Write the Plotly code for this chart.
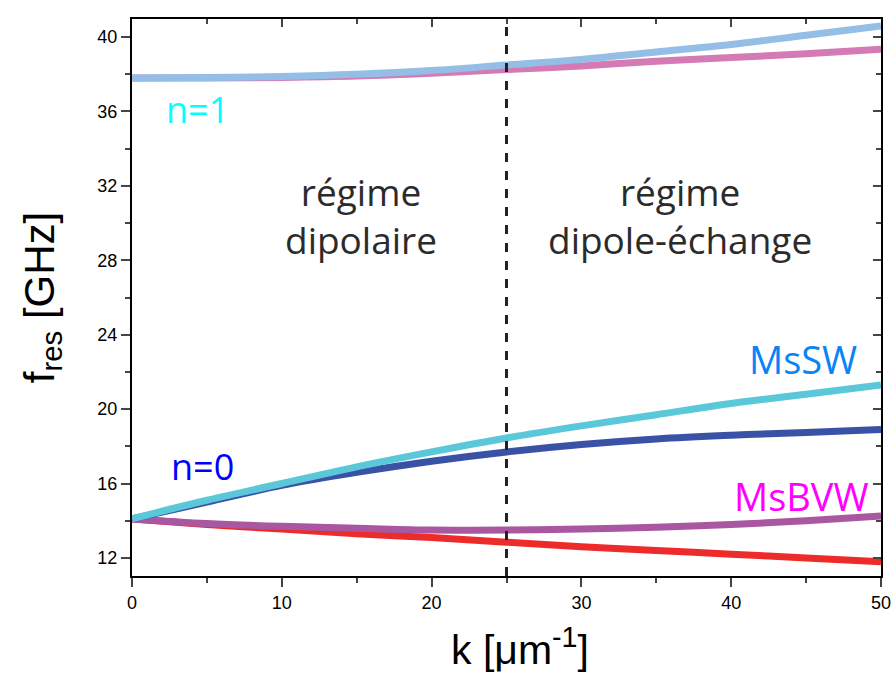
import plotly.graph_objects as go

k = [0, 5, 10, 15, 20, 25, 30, 35, 40, 45, 50]
n1_sw = [37.8, 37.82, 37.88, 38.0, 38.2, 38.5, 38.8, 39.2, 39.6, 40.1, 40.6]
n1_bvw = [37.8, 37.8, 37.83, 37.9, 38.05, 38.25, 38.45, 38.7, 38.9, 39.1, 39.35]
n0_sw = [14.1, 15.1, 16.0, 16.9, 17.7, 18.45, 19.1, 19.7, 20.3, 20.8, 21.3]
n0_sw_dip = [14.1, 15.0, 15.9, 16.6, 17.2, 17.7, 18.1, 18.4, 18.6, 18.75, 18.9]
n0_bvw = [14.1, 13.85, 13.7, 13.6, 13.5, 13.5, 13.55, 13.65, 13.8, 14.0, 14.25]
n0_bvw_dip = [14.1, 13.8, 13.55, 13.3, 13.1, 12.85, 12.6, 12.4, 12.2, 12.0, 11.8]
k_boundary = 25

series = [
    (n1_bvw, "#D47BB5"),
    (n1_sw, "#94BEE6"),
    (n0_bvw_dip, "#EE2B2B"),
    (n0_bvw, "#A857A0"),
    (n0_sw_dip, "#3A52A5"),
    (n0_sw, "#5BC8DA"),
]

fig = go.Figure()
for ys, c in series:
    fig.add_trace(go.Scatter(x=k, y=ys, mode="lines", line=dict(color=c, width=7, shape="spline"),
                             showlegend=False, hoverinfo="skip"))

yr = [11.03, 40.97]
fig.add_trace(go.Scatter(x=[k_boundary, k_boundary], y=yr, mode="lines",
                         line=dict(color="#222222", width=3, dash="dash"), showlegend=False))

tickfont = dict(family="Liberation Sans, Arial", size=18, color="black")
fig.update_layout(
    width=895, height=682,
    margin=dict(l=132, r=14, t=19, b=106),
    plot_bgcolor="white", paper_bgcolor="white",
    xaxis=dict(range=[0, 50], tickvals=[0, 10, 20, 30, 40, 50], ticks="outside", ticklen=9, tickwidth=2,
               minor=dict(tickvals=[5, 15, 25, 35, 45], ticks="outside", ticklen=5, tickwidth=2),
               showline=True, linecolor="black", linewidth=2, showgrid=False, zeroline=False,
               tickfont=tickfont, automargin=False),
    yaxis=dict(range=yr, tickvals=[12, 16, 20, 24, 28, 32, 36, 40], ticks="outside", ticklen=9, tickwidth=2,
               minor=dict(tickvals=[14, 18, 22, 26, 30, 34, 38], ticks="outside", ticklen=5, tickwidth=2),
               showline=True, linecolor="black", linewidth=2, showgrid=False, zeroline=False,
               tickfont=tickfont, automargin=False,
               title=dict(text="f<sub>res</sub> [GHz]", font=dict(family="Liberation Sans, Arial", size=42, color="black"), standoff=30)),
    xaxis2=dict(overlaying="x", side="top", range=[0, 50], tickvals=[0, 10, 20, 30, 40, 50], ticks="inside",
                ticklen=8, tickwidth=2, showticklabels=False, showline=True, linecolor="black", linewidth=2,
                minor=dict(tickvals=[5, 15, 25, 35, 45], ticks="inside", ticklen=5, tickwidth=2),
                showgrid=False, zeroline=False, automargin=False),
    yaxis2=dict(overlaying="y", side="right", range=yr, tickvals=[12, 16, 20, 24, 28, 32, 36, 40], ticks="inside",
                ticklen=8, tickwidth=2, showticklabels=False, showline=True, linecolor="black", linewidth=2,
                minor=dict(tickvals=[14, 18, 22, 26, 30, 34, 38], ticks="inside", ticklen=5, tickwidth=2),
                showgrid=False, zeroline=False, automargin=False),
)
fig.add_trace(go.Scatter(x=[None], y=[None], xaxis="x2", yaxis="y2", showlegend=False))

# x-axis title (slightly right of centre as in the reference)
fig.add_annotation(x=(520 - 132) / (881 - 132), y=-0.128, xref="paper", yref="paper",
                   text="k [μm<sup>-1</sup>]", showarrow=False, yanchor="middle",
                   font=dict(family="Liberation Sans, Arial", size=41, color="black"))

afont = "Open Sans, Lato, sans-serif"
ann = [
    (4.35, 36.1, "n=1", "#00FFFF", 36),
    (4.7, 16.9, "n=0", "#0000FF", 36),
    (44.8, 22.7, "MsSW", "#0A84F5", 38),
    (44.7, 15.35, "MsBVW", "#FF00FF", 38),
    (15.3, 30.4, "régime<br>dipolaire", "#2b2b2b", 37),
    (36.6, 30.4, "régime<br>dipole-échange", "#2b2b2b", 37),
]
for x, y, t, c, s in ann:
    fig.add_annotation(x=x, y=y, text=t, showarrow=False, font=dict(family=afont, size=s, color=c),
                       xref="x", yref="y", align="center")

fig.write_html("out.html")
